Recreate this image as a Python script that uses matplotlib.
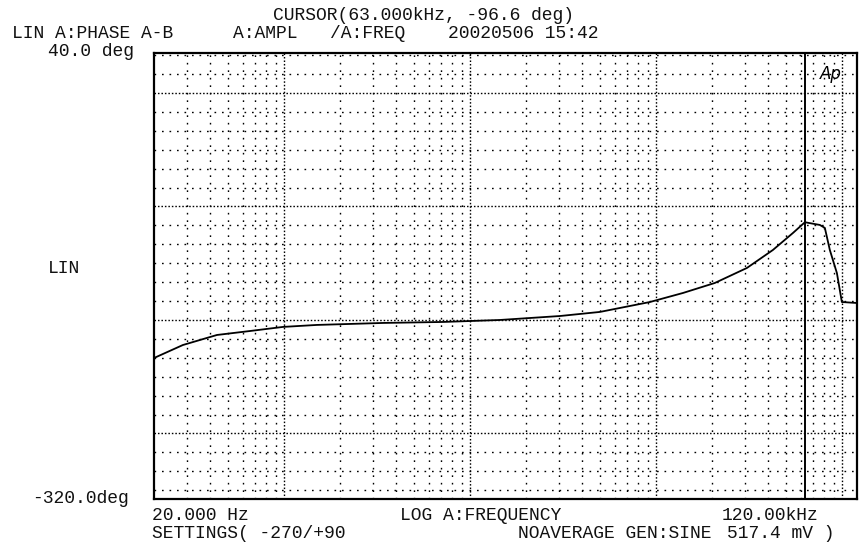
import numpy as np
import matplotlib
matplotlib.use("Agg")
import matplotlib.pyplot as plt
from matplotlib.ticker import FixedLocator, NullFormatter

# phase response (Hz, deg)
freq = [20, 28.6, 43.6, 65.6, 98.7, 150, 226, 340, 714, 1446, 3038, 4985,
        9250, 13930, 20680, 30740, 42380, 54290, 63000, 75800, 80620,
        85740, 93560, 99500, 120000]
phase = [-206.2, -195.7, -187.6, -184.4, -181.1, -179.5, -178.7, -177.9,
         -177.1, -175.5, -172.3, -169.0, -161.0, -153.7, -145.6, -133.5,
         -119.0, -105.3, -96.6, -98.8, -101.2, -119.0, -137.6, -161.0, -161.8]

cursor_f = 63000
cursor_deg = -96.6
ymin, ymax = -320.0, 40.0
fmin, fmax = 20.0, 120000.0

# instrument grid rows (deg) - major every 6 minor divisions
major_rows = [7.7, -83.9, -175.5, -267.1]
row_step = 15.27

W, H = 861, 544
fig = plt.figure(figsize=(W / 100, H / 100), dpi=100)
L, R, T, B = 154, 857, 53, 499
ax = fig.add_axes([L / W, 1 - B / H, (R - L) / W, (B - T) / H])
ax.set_xscale("log")
ax.set_xlim(fmin, fmax)
ax.set_ylim(ymin, ymax)

# grid
minor_rows = []
for m in major_rows:
    for k in range(1, 6):
        minor_rows.append(m - k * row_step)
minor_rows += [major_rows[0] + row_step, major_rows[0] + 2 * row_step]
minor_rows = [v for v in minor_rows if ymin < v < ymax]
for v in minor_rows:
    ax.axhline(v, color="black", lw=1.0, ls=(0, (1.2, 4.2)), zorder=1)
for v in major_rows:
    ax.axhline(v, color="black", lw=1.0, ls=(0, (1.1, 1.4)), zorder=1)

decades = [100, 1000, 10000, 100000]
minor_cols = []
for d in [10, 100, 1000, 10000, 100000]:
    for k in range(2, 10):
        if fmin < d * k < fmax:
            minor_cols.append(d * k)
for v in minor_cols:
    ax.axvline(v, color="black", lw=1.0, ls=(0, (1.2, 4.2)), zorder=1)
for v in decades:
    ax.axvline(v, color="black", lw=1.0, ls=(0, (1.1, 1.4)), zorder=1)

ax.plot(freq, phase, color="black", lw=1.3, zorder=3)
ax.axvline(cursor_f, color="black", lw=1.4, zorder=4)

ax.xaxis.set_major_locator(FixedLocator([]))
ax.xaxis.set_minor_locator(FixedLocator([]))
ax.yaxis.set_major_locator(FixedLocator([]))
ax.yaxis.set_minor_locator(FixedLocator([]))
ax.xaxis.set_minor_formatter(NullFormatter())
for s in ax.spines.values():
    s.set_linewidth(1.6)

ax.text(0.978, 0.953, "Ap", transform=ax.transAxes, ha="right", va="center",
        fontsize=12, style="italic", family="DejaVu Sans")

mono = "Liberation Mono"
fs = 13


def put(x, y, s):
    # y is the baseline in picture pixels
    fig.text(x / W, 1 - y / H, s, ha="left", va="baseline", family=mono,
             fontsize=fs, color="#111111")


put(273, 20, "CURSOR(63.000kHz, -96.6 deg)")
put(12, 38.5, "LIN A:PHASE A-B")
put(233, 38.5, "A:AMPL")
put(330, 38.5, "/A:FREQ")
put(448, 38.5, "20020506 15:42")
put(48, 56.5, "40.0 deg")
put(48, 273, "LIN")
put(32, 503, "-320.0deg")
put(152, 520, "20.000 Hz")
put(400, 520, "LOG A:FREQUENCY")
put(722, 520, "120.00kHz")
put(152, 538, "SETTINGS( -270/+90")
put(518, 538, "NOAVERAGE GEN:SINE")
put(727, 538, "517.4 mV )")

fig.savefig("out.png", dpi=100)
